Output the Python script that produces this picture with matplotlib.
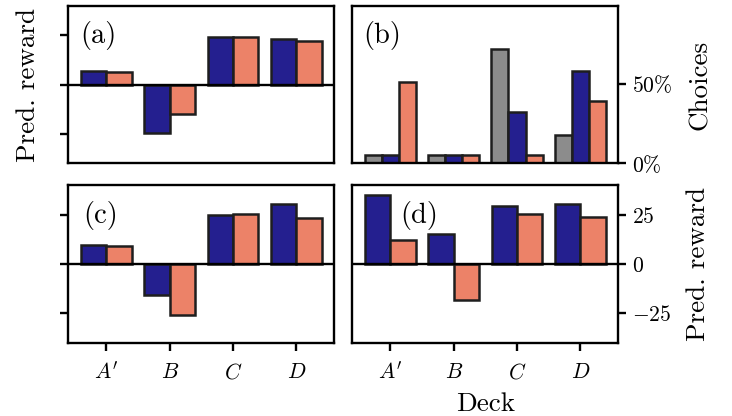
import matplotlib
matplotlib.use("Agg")
import matplotlib.pyplot as plt
import numpy as np

plt.rcParams['font.family'] = 'serif'
plt.rcParams['font.serif'] = ['cmr10']
plt.rcParams['mathtext.fontset'] = 'cm'
plt.rcParams['axes.formatter.use_mathtext'] = True
plt.rcParams['axes.linewidth'] = 1.7

decks = [r"$A'$", r"$B$", r"$C$", r"$D$"]

# predicted reward, panel (a)
reward_a_blue = [7.0, -24.5, 24.0, 23.0]
reward_a_orange = [6.5, -15.0, 24.0, 22.0]
# choice fractions (%), panel (b)
choices_gray = [5, 5, 72, 18]
choices_blue = [5, 5, 32, 58]
choices_orange = [51, 5, 5, 39]
# predicted reward, panel (c)
reward_c_blue = [9.5, -16.0, 25.0, 30.5]
reward_c_orange = [9.0, -26.0, 25.3, 23.5]
# predicted reward, panel (d)
reward_d_blue = [35.0, 15.0, 29.5, 30.5]
reward_d_orange = [12.0, -18.5, 25.5, 23.8]

c_blue = '#241f8f'
c_orange = '#ec8268'
c_gray = '#8c8c8c'
edge = '#1e1e1e'
elw = 1.8
x = np.arange(len(decks))

fig, axs = plt.subplots(2, 2, figsize=(7.32, 4.16), dpi=100)
fig.subplots_adjust(left=0.0933, right=0.8447, top=0.9863, bottom=0.1762,
                    wspace=0.0677, hspace=0.138)
(ax_a, ax_b), (ax_c, ax_d) = axs

tick_kw = dict(labelsize=15.5, length=6, width=1.7)


def reward_panel(ax, blue, orange):
    ax.bar(x - 0.2, blue, 0.4, color=c_blue, edgecolor=edge, linewidth=elw)
    ax.bar(x + 0.2, orange, 0.4, color=c_orange, edgecolor=edge, linewidth=elw)
    ax.axhline(0, color='k', lw=1.7, zorder=3)
    ax.set_xlim(-0.6, 3.6)
    ax.set_ylim(-40, 40)
    ax.set_yticks([-25, 0, 25])
    ax.tick_params(**tick_kw)


reward_panel(ax_a, reward_a_blue, reward_a_orange)
reward_panel(ax_c, reward_c_blue, reward_c_orange)
reward_panel(ax_d, reward_d_blue, reward_d_orange)

w = 0.27
ax_b.bar(x - w, choices_gray, w, color=c_gray, edgecolor=edge, linewidth=elw)
ax_b.bar(x, choices_blue, w, color=c_blue, edgecolor=edge, linewidth=elw)
ax_b.bar(x + w, choices_orange, w, color=c_orange, edgecolor=edge, linewidth=elw)
ax_b.set_xlim(-0.6, 3.6)
ax_b.set_ylim(0, 99)
ax_b.set_yticks([0, 50])
ax_b.set_yticklabels([r'$\mathdefault{0\%}$', r'$\mathdefault{50\%}$'])
ax_b.tick_params(**tick_kw)

# top row: no x ticks
for ax in (ax_a, ax_b):
    ax.set_xticks([])

# left column: y ticks without labels
ax_a.set_yticklabels([])
ax_c.set_yticklabels([])

# right column: labels on the right side
for ax in (ax_b, ax_d):
    ax.yaxis.tick_right()
    ax.yaxis.set_label_position('right')

for ax in (ax_c, ax_d):
    ax.set_xticks(x)
    ax.set_xticklabels(decks)
    ax.tick_params(axis='x', pad=8)

ax_a.set_ylabel('Pred. reward', fontsize=19.5, labelpad=11)
ax_b.set_ylabel('Choices', fontsize=19.5, labelpad=12)
ax_d.set_ylabel('Pred. reward', fontsize=19.5, labelpad=11)
ax_d.set_xlabel('Deck', fontsize=19.5, labelpad=6)

panel_pos = {'(a)': (ax_a, 0.045), '(b)': (ax_b, 0.04),
             '(c)': (ax_c, 0.055), '(d)': (ax_d, 0.18)}
for lab, (ax, px) in panel_pos.items():
    ax.text(px, 0.9, lab, transform=ax.transAxes, fontsize=20.5,
            va='top', ha='left')

fig.savefig('out.png', dpi=100)
